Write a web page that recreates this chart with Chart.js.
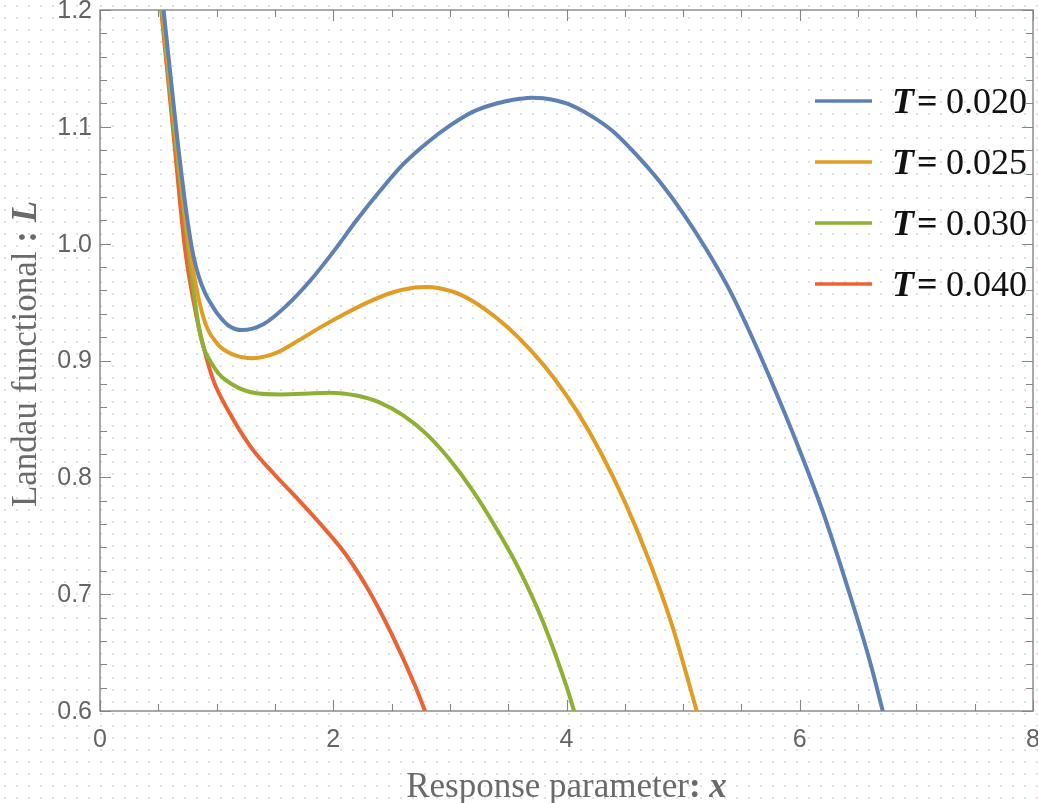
<!DOCTYPE html>
<html>
<head>
<meta charset="utf-8">
<title>Landau functional</title>
<script src="https://cdn.jsdelivr.net/npm/chart.js@4.4.1/dist/chart.umd.min.js"></script>
<style>
  html, body { margin: 0; padding: 0; background: #fff; }
  canvas { display: block; }
</style>
</head>
<body>
<canvas id="chart" width="1038" height="803"></canvas>
<script>
// values
const temps = ['0.020', '0.025', '0.030', '0.040'];
const colors = ['#5e81b5', '#e19c24', '#8fb032', '#eb6235'];

const xBlue = [0.545, 0.657, 0.75, 0.80, 0.85, 0.90, 0.943, 1.0, 1.058, 1.1, 1.215, 1.4, 1.6, 1.8, 2.0, 2.2, 2.4, 2.6, 2.8, 3.0, 3.2, 3.4, 3.6, 3.7, 3.8, 4.0, 4.2, 4.4, 4.6, 4.8, 5.0, 5.2, 5.4, 5.6, 5.8, 6.0, 6.2, 6.4, 6.6, 6.712];
const yBlue = [1.2, 1.095, 1.02, 0.99, 0.971, 0.958, 0.950, 0.941, 0.934, 0.930, 0.926, 0.931, 0.947, 0.968, 0.993, 1.020, 1.045, 1.068, 1.086, 1.101, 1.113, 1.120, 1.124, 1.125, 1.1245, 1.120, 1.110, 1.096, 1.076, 1.053, 1.026, 0.995, 0.960, 0.918, 0.872, 0.823, 0.770, 0.709, 0.643, 0.600];

const xOrange = [0.535, 0.648, 0.77, 0.886, 1.0, 1.143, 1.315, 1.5, 1.7, 1.9, 2.1, 2.3, 2.5, 2.7, 2.8, 2.9, 3.1, 3.3, 3.5, 3.7, 3.9, 4.1, 4.3, 4.5, 4.7, 4.9, 5.117];
const yOrange = [1.2, 1.095, 0.995, 0.937, 0.915, 0.905, 0.902, 0.906, 0.917, 0.929, 0.940, 0.950, 0.958, 0.9625, 0.963, 0.962, 0.956, 0.944, 0.928, 0.908, 0.884, 0.855, 0.820, 0.779, 0.731, 0.675, 0.600];

const xGreen = [0.53, 0.638, 0.757, 0.858, 0.972, 1.143, 1.343, 1.544, 1.75, 1.97, 2.2, 2.4, 2.6, 2.8, 3.0, 3.2, 3.4, 3.6, 3.8, 4.0, 4.065];
const yGreen = [1.2, 1.095, 0.995, 0.923, 0.895, 0.879, 0.872, 0.871, 0.8715, 0.8725, 0.870, 0.864, 0.853, 0.837, 0.815, 0.788, 0.756, 0.720, 0.676, 0.621, 0.600];

const xRed = [0.525, 0.629, 0.73, 0.829, 0.9, 0.972, 1.1, 1.3, 1.5, 1.7, 1.9, 2.1, 2.3, 2.5, 2.7, 2.787];
const yRed = [1.2, 1.095, 0.995, 0.937, 0.907, 0.883, 0.857, 0.825, 0.802, 0.781, 0.759, 0.735, 0.704, 0.666, 0.622, 0.600];

const xTicks = [0, 2, 4, 6, 8];
const yTicks = [0.6, 0.7, 0.8, 0.9, 1.0, 1.1, 1.2];

const serif = '"Liberation Serif", "Times New Roman", serif';
const sans = '"Liberation Sans", Arial, sans-serif';

const series = [[xBlue, yBlue], [xOrange, yOrange], [xGreen, yGreen], [xRed, yRed]];

const datasets = series.map(([xs, ys], i) => ({
  label: 'T = ' + temps[i],
  data: xs.map((x, j) => ({ x: x, y: ys[j] })),
  borderColor: colors[i],
  borderWidth: 4,
  pointRadius: 0,
  fill: false,
  cubicInterpolationMode: 'monotone',
}));

// dotted "paper" background behind everything
const paperDots = {
  id: 'paperDots',
  beforeDraw(chart) {
    const ctx = chart.ctx;
    ctx.save();
    ctx.fillStyle = '#fff';
    ctx.fillRect(0, 0, chart.width, chart.height);
    let row = 0;
    for (let y = 5; y < chart.height; y += 12, row++) {
      let col = 0;
      for (let x = 4; x < chart.width; x += 12, col++) {
        ctx.fillStyle = (col + row) % 2 ? '#d3e6ee' : '#e0e0e0';
        ctx.fillRect(x, y, 2, 2);
      }
    }
    ctx.restore();
  }
};

// Mathematica style frame with ticks pointing inwards
const frame = {
  id: 'frame',
  beforeDatasetsDraw(chart) {
    const { ctx, chartArea: a, scales } = chart;
    const xs = scales.x, ys = scales.y;
    ctx.save();
    ctx.strokeStyle = '#858585';
    ctx.lineWidth = 1.4;
    ctx.strokeRect(a.left, a.top, a.right - a.left, a.bottom - a.top);

    ctx.lineWidth = 1.1;
    ctx.beginPath();
    for (let v = 0; v <= 8.001; v += 0.5) {
      const px = Math.round(xs.getPixelForValue(v)) + 0.5;
      const len = Math.abs(v % 2) < 0.01 ? 11 : 7;
      ctx.moveTo(px, a.bottom); ctx.lineTo(px, a.bottom - len);
      ctx.moveTo(px, a.top); ctx.lineTo(px, a.top + len);
    }
    for (let k = 0; k <= 30; k++) {
      const v = 0.6 + k * 0.02;
      const py = Math.round(ys.getPixelForValue(v)) + 0.5;
      const len = k % 5 === 0 ? 11 : 7;
      ctx.moveTo(a.left, py); ctx.lineTo(a.left + len, py);
      ctx.moveTo(a.right, py); ctx.lineTo(a.right - len, py);
    }
    ctx.stroke();

    // tick labels
    ctx.fillStyle = '#646464';
    ctx.font = '25px ' + sans;
    ctx.textBaseline = 'middle';
    ctx.textAlign = 'center';
    xTicks.forEach(v => ctx.fillText(String(v), xs.getPixelForValue(v), a.bottom + 29));
    ctx.textAlign = 'right';
    yTicks.forEach(v => ctx.fillText(v.toFixed(1), a.left - 8, ys.getPixelForValue(v) + 1));
    ctx.restore();
  }
};

// draws a row of differently styled text pieces
function drawPieces(ctx, pieces, x, y) {
  pieces.forEach(p => {
    ctx.font = p[1];
    ctx.fillText(p[0], x, y);
    x += ctx.measureText(p[0]).width;
  });
  return x;
}
function piecesWidth(ctx, pieces) {
  let w = 0;
  pieces.forEach(p => { ctx.font = p[1]; w += ctx.measureText(p[0]).width; });
  return w;
}

const titlesAndLegend = {
  id: 'titlesAndLegend',
  afterDraw(chart) {
    const { ctx, chartArea: a } = chart;
    ctx.save();
    ctx.fillStyle = '#6a6a6a';
    ctx.textAlign = 'left';
    ctx.textBaseline = 'alphabetic';

    const reg = '35px ' + serif, bold = 'bold 35px ' + serif, bi = 'italic bold 35px ' + serif;
    const xTitle = [['Response parameter', reg], [':', bold], [' ', reg], ['x', bi]];
    const w1 = piecesWidth(ctx, xTitle);
    drawPieces(ctx, xTitle, (a.left + a.right) / 2 - w1 / 2, 797);

    const yTitle = [['Landau functional ', reg], [':', bold], [' ', reg], ['L', bi]];
    const w2 = piecesWidth(ctx, yTitle);
    ctx.translate(36, 354);
    ctx.rotate(-Math.PI / 2);
    drawPieces(ctx, yTitle, -w2 / 2, 0);
    ctx.setTransform(1, 0, 0, 1, 0, 0);

    // legend
    chart.data.datasets.forEach((ds, i) => {
      const cy = 101 + i * 61;
      ctx.strokeStyle = ds.borderColor;
      ctx.lineWidth = 3.5;
      ctx.beginPath();
      ctx.moveTo(815, cy);
      ctx.lineTo(872, cy);
      ctx.stroke();
      ctx.fillStyle = '#111';
      ctx.font = 'italic bold 36px ' + serif;
      ctx.fillText('T', 892, cy + 12);
      ctx.font = 'bold 36px ' + serif;
      ctx.fillText('=', 917, cy + 12);
      ctx.font = '36px ' + serif;
      ctx.fillText(temps[i], 946, cy + 12);
    });
    ctx.restore();
  }
};

new Chart(document.getElementById('chart'), {
  type: 'line',
  data: { datasets: datasets },
  options: {
    responsive: false,
    animation: false,
    events: [],
    devicePixelRatio: 1,
    layout: { padding: { top: 10, right: 5, left: 0, bottom: 0 } },
    plugins: { legend: { display: false }, tooltip: { enabled: false } },
    scales: {
      x: {
        type: 'linear', min: 0, max: 8,
        ticks: { display: false },
        grid: { display: false },
        border: { display: false },
        afterFit(s) { s.height = 92; },
      },
      y: {
        type: 'linear', min: 0.6, max: 1.2,
        ticks: { display: false },
        grid: { display: false },
        border: { display: false },
        afterFit(s) { s.width = 100; },
      },
    },
  },
  plugins: [paperDots, frame, titlesAndLegend],
});
</script>
</body>
</html>
